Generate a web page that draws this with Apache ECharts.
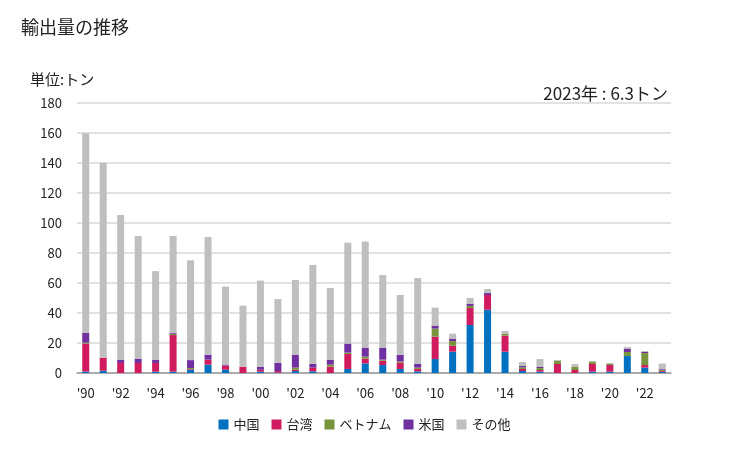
<!DOCTYPE html>
<html><head><meta charset="utf-8">
<script src="https://cdn.jsdelivr.net/npm/echarts@6/dist/echarts.min.js"></script>
<style>html,body{margin:0;padding:0;background:#fff}#c{width:729px;height:450px}</style>
</head><body><div id="c"></div>
<script>
var years = ['1990','1991','1992','1993','1994','1995','1996','1997','1998','1999','2000','2001','2002','2003','2004','2005','2006','2007','2008','2009','2010','2011','2012','2013','2014','2015','2016','2017','2018','2019','2020','2021','2022','2023'];
var china   = [1,1.5,0,0,0.9,0.9,2.2,5.6,2.2,0,0.9,0.3,1.3,1.1,0,2.7,6.4,5.3,2.7,1.1,9.3,14.2,32,42.2,14.2,1.3,0.9,0,0,0.9,0.9,11.3,3.6,0.8];
var taiwan  = [18.5,8.7,6.7,6.7,5.8,24.4,0.4,3.3,2.7,4.2,1.3,1,0.9,2.5,4.2,10,3.2,2.9,4.2,1.6,14.9,4,11.3,9.8,10.7,1.4,1.1,6,2,5.1,4.4,0,1.7,0.6];
var vietnam = [0.7,0,0,0,0,0.9,0.7,0,0,0,0,0,1.4,0,1.4,0.9,1.3,0.7,0.7,0.9,5.4,3.1,1.4,0,1.1,1.1,1.3,2,2,1.3,0.7,2.7,8,0.7];
var usa     = [6.7,0,2.2,2.9,2.2,0.7,5.3,3.3,0.7,0,2,5.6,8.6,2.6,3.3,6,6,8,4.6,2.6,2,1.6,1.5,1.3,0,0.9,0.7,0,0,0,0,2,0.7,0.5];
var others  = [133,130,96.4,81.7,59,64.4,66.5,78.5,52,40.7,57.4,42.4,49.8,65.8,47.8,67.3,70.7,48.4,39.8,57.1,12,3.3,3.8,2.7,2,2.6,5.3,0.7,2,0.7,0.7,1.3,0.7,3.7];
var names = ['中国','台湾','ベトナム','米国','その他'];
var colors = ['#0070c0','#d01c5f','#77933c','#7030a0','#bfbfbf'];
var font = '"Noto Sans CJK JP", "Noto Sans", sans-serif';
var data = [china, taiwan, vietnam, usa, others];
var chart = echarts.init(document.getElementById('c'), null, {renderer:'canvas'});
chart.setOption({
  animation:false,
  textStyle:{fontFamily:font},
  title:[
    {text:'輸出量の推移', left:16, top:13, textStyle:{fontFamily:font, fontSize:18, fontWeight:'normal', color:'#222'}},
    {text:'単位:トン', left:25, top:67, textStyle:{fontFamily:font, fontSize:15, fontWeight:'normal', color:'#222'}},
    {text:'2023年 : 6.3トン', right:56, top:80, textStyle:{fontFamily:font, fontSize:17, fontWeight:'normal', color:'#222'}}
  ],
  legend:{bottom:14, left:'center', itemWidth:10, itemHeight:10, itemGap:12, icon:'rect',
    textStyle:{fontFamily:font, fontSize:13, color:'#222'}, data:names},
  grid:{left:77, right:58, top:103, bottom:77},
  xAxis:{type:'category', data:years,
    axisLine:{lineStyle:{color:'#999', width:1.5}}, axisTick:{show:false},
    axisLabel:{interval:1, color:'#222', fontSize:13, margin:14, fontFamily:font,
      formatter:function(v){return "'"+v.slice(2);}}},
  yAxis:{type:'value', min:0, max:180, interval:20,
    axisLine:{show:false}, axisTick:{show:false},
    splitLine:{lineStyle:{color:'#d9d9d9', width:1.5}},
    axisLabel:{color:'#222', fontSize:13, margin:15, fontFamily:font}},
  series: names.map(function(n,i){
    return {name:n, type:'bar', stack:'a', data:data[i], barWidth:7,
      itemStyle:{color:colors[i]}};
  })
});
</script></body></html>
